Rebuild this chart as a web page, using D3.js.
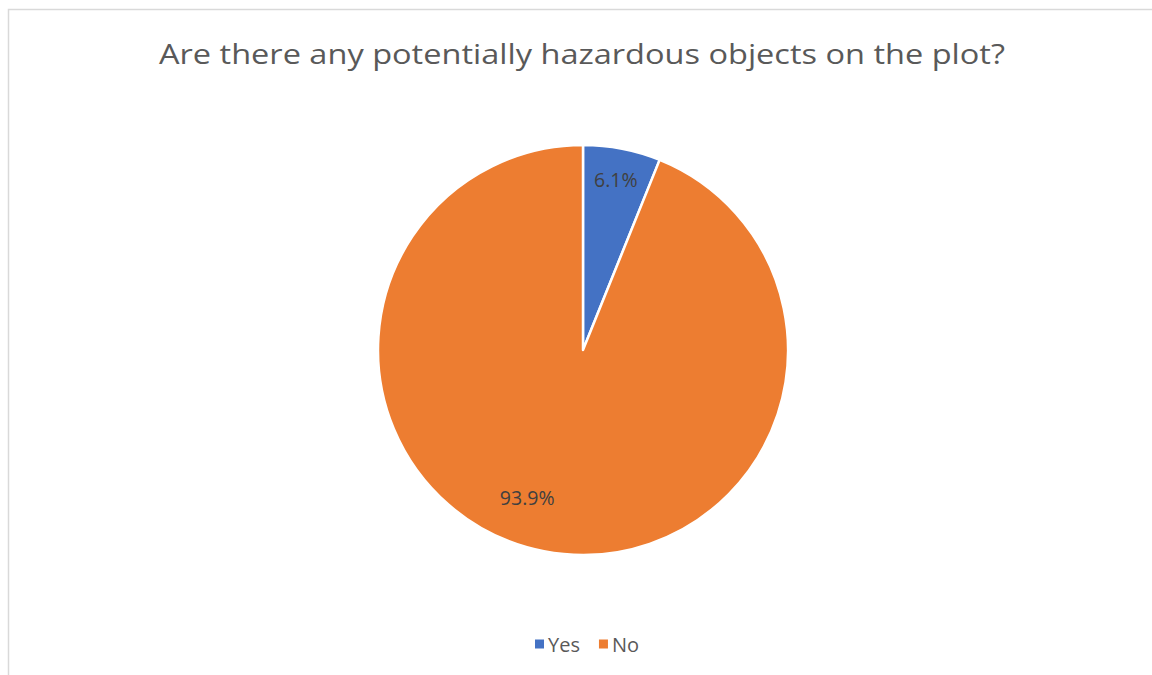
<!DOCTYPE html>
<html>
<head>
<meta charset="utf-8">
<script src="https://cdn.jsdelivr.net/npm/d3@7"></script>
<style>
  html, body { margin: 0; padding: 0; background: #fff; }
  svg { display: block; }
</style>
</head>
<body>
<svg id="chart" width="1152" height="675"></svg>
<script>
// Survey answers and their shares (percent)
const categories = ["Yes", "No"];
const shares = [6.1, 93.9];
const colors = ["#4472C4", "#ED7D31"];
const title = "Are there any potentially hazardous objects on the plot?";

const W = 1152, H = 675;
const svg = d3.select("#chart");
const font = "'Open Sans', 'Noto Sans', sans-serif";

// chart frame
svg.append("rect")
  .attr("x", 8.5).attr("y", 9.5)
  .attr("width", W + 20).attr("height", H + 20)
  .attr("fill", "#fff")
  .attr("stroke", "#d9d9d9")
  .attr("stroke-width", 1.5);

// title
const titleText = svg.append("text")
  .attr("x", 582).attr("y", 64)
  .attr("text-anchor", "middle")
  .attr("font-family", font)
  .attr("font-size", 28)
  .attr("fill", "#595959")
  .text(title);
// keep the title to its span
const tw = titleText.node().getComputedTextLength();
if (Math.abs(tw - 846) > 4) titleText.attr("textLength", 846).attr("lengthAdjust", "spacingAndGlyphs");

// pie
const cx = 583, cy = 350, radius = 205;
const data = categories.map((c, i) => ({ cat: c, value: shares[i], color: colors[i] }));
const pie = d3.pie().value(d => d.value).sort(null);
const arc = d3.arc().innerRadius(0).outerRadius(radius);
const arcs = pie(data);

const g = svg.append("g").attr("transform", `translate(${cx},${cy})`);
g.selectAll("path.slice")
  .data(arcs)
  .join("path")
  .attr("class", "slice")
  .attr("d", arc)
  .attr("fill", d => d.data.color)
  .attr("stroke", "#fff")
  .attr("stroke-width", 2.5)
  .attr("stroke-linejoin", "round");

// data labels: placed along each slice's bisector, with a best-fit nudge
const labelArc = d3.arc().innerRadius(radius * 0.84).outerRadius(radius * 0.84);
const labelNudge = [[0, -1], [-23, -22]];
g.selectAll("text.lbl")
  .data(arcs)
  .join("text")
  .attr("class", "lbl")
  .attr("x", (d, i) => labelArc.centroid(d)[0] + labelNudge[i][0])
  .attr("y", (d, i) => labelArc.centroid(d)[1] + labelNudge[i][1])
  .attr("text-anchor", "middle")
  .attr("dominant-baseline", "central")
  .attr("font-family", font)
  .attr("font-size", 19.5)
  .attr("fill", "#404040")
  .text(d => d.data.value.toFixed(1) + "%");

// legend
const legend = svg.append("g").attr("transform", "translate(535,644)");
let lx = 0;
data.forEach(d => {
  const item = legend.append("g").attr("transform", `translate(${lx},0)`);
  item.append("rect")
    .attr("x", 0).attr("y", -4.5)
    .attr("width", 9).attr("height", 9)
    .attr("fill", d.color);
  const t = item.append("text")
    .attr("x", 13).attr("y", 0)
    .attr("dominant-baseline", "central")
    .attr("font-family", font)
    .attr("font-size", 20)
    .attr("fill", "#595959")
    .text(d.cat);
  lx += 13 + t.node().getComputedTextLength() + 19;
});
</script>
</body>
</html>
